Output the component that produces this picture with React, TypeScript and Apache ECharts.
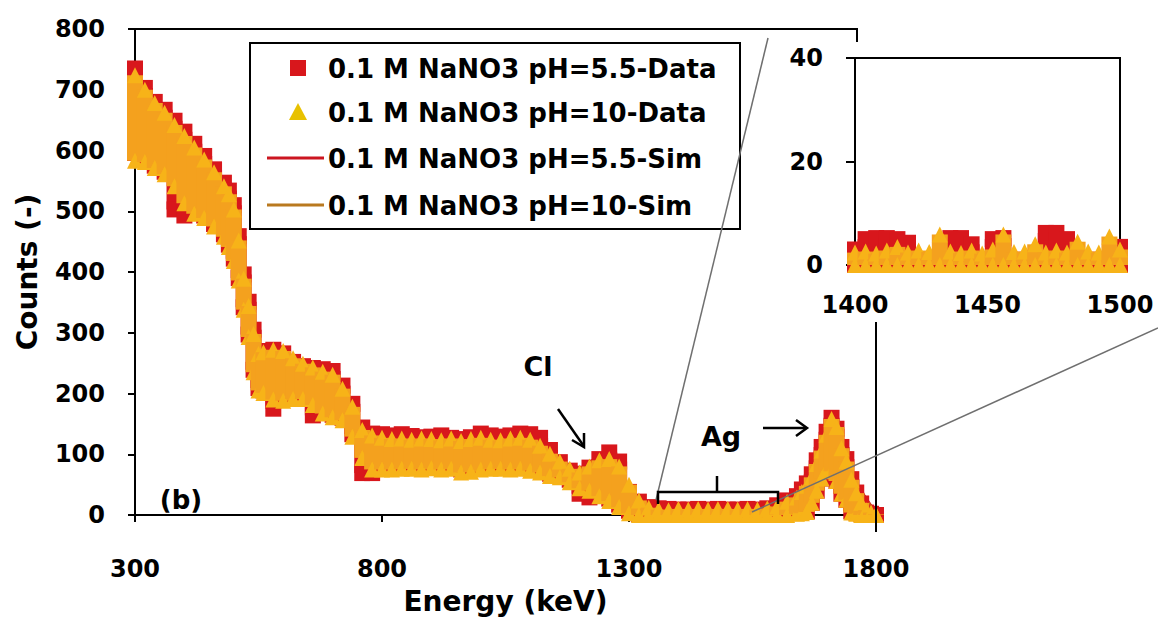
import React, { useEffect, useRef } from "react";
import * as echarts from "echarts";

// ---- spectrum data: spread (low..high) of measured counts in each energy bin ----
const energy = [
  300, 320, 340, 360, 380, 400, 420, 440, 460, 480, 490, 500, 510, 520, 530, 540,
  550, 560, 580, 600, 620, 640, 660, 680, 700, 720, 740, 760, 780, 800, 820, 840,
  860, 880, 900, 920, 940, 960, 980, 1000, 1020, 1040, 1060, 1080, 1100, 1120,
  1140, 1160, 1180, 1200, 1220, 1240, 1260, 1280, 1300, 1320, 1340, 1360, 1380,
  1400, 1420, 1440, 1460, 1480, 1500, 1520, 1540, 1560, 1580, 1600, 1620, 1640,
  1650, 1660, 1670, 1680, 1690, 1700, 1710, 1720, 1730, 1740, 1750, 1760, 1770,
  1780, 1790, 1800,
];
const ph55Low = [
  596, 585, 575, 565, 503, 493, 500, 493, 479, 462, 445, 422, 390, 342, 297, 239,
  209, 205, 175, 192, 195, 195, 164, 171, 165, 160, 133, 69, 69, 79, 79, 79,
  80, 79, 80, 79, 80, 75, 77, 79, 79, 80, 79, 80, 77, 74,
  68, 66, 58, 35, 29, 35, 27, 17, 7, 2, 1, 0, 0,
  0, 0, 0, 0, 0, 0, 0, 0, 0, 0, 2, 3, 4,
  5, 6, 20, 40, 60, 75, 72, 56, 35, 25, 6, 4, 2,
  0, 0, 0,
];
const ph55High = [
  735, 703, 680, 667, 649, 631, 611, 591, 569, 547, 534, 510, 459, 396, 351, 305,
  270, 266, 272, 266, 252, 245, 242, 240, 237, 213, 183, 144, 134, 133, 131, 133,
  130, 128, 129, 131, 127, 125, 128, 134, 131, 129, 131, 134, 133, 127,
  107, 87, 73, 68, 78, 92, 103, 88, 38, 22, 13, 11, 10,
  9, 9, 10, 9, 10, 9, 9, 10, 9, 11, 16, 24, 31,
  42, 52, 67, 90, 112, 137, 160, 142, 112, 92, 59, 37, 19,
  4, 2, 0,
];
const ph10Low = [
  583, 581, 571, 561, 541, 513, 496, 489, 475, 458, 441, 418, 386, 338, 293, 235,
  205, 201, 190, 188, 191, 191, 181, 167, 161, 156, 129, 94, 75, 75, 75, 76,
  76, 75, 77, 75, 76, 70, 71, 75, 76, 76, 75, 76, 73, 70,
  64, 62, 54, 44, 40, 31, 23, 13, 3, 0, 0, 0, 0,
  0, 0, 0, 0, 0, 0, 0, 0, 0, 0, 0, 0, 2,
  3, 5, 20, 40, 60, 75, 72, 56, 35, 25, 4, 2, 0,
  0, 0, 0,
];
const ph10High = [
  724, 700, 678, 662, 642, 624, 605, 585, 564, 541, 528, 503, 452, 389, 344, 298,
  265, 268, 272, 270, 258, 249, 243, 236, 231, 208, 178, 140, 131, 127, 125, 126,
  124, 126, 125, 123, 126, 122, 125, 127, 124, 123, 126, 127, 124, 114,
  101, 88, 76, 70, 80, 90, 92, 80, 50, 24, 12, 9, 8,
  10, 9, 10, 9, 10, 10, 9, 10, 9, 11, 14, 22, 29,
  38, 48, 62, 84, 106, 132, 158, 145, 110, 88, 58, 36, 20,
  8, 4, 1,
];

// ---- simulated spectra ----
const simEnergy = [
  300, 350, 400, 450, 500, 550, 600, 650, 700, 750, 800, 850, 900, 950, 1000, 1050,
  1100, 1150, 1200, 1250, 1300, 1350, 1400, 1450, 1500, 1550, 1600, 1650, 1700,
  1750, 1800,
];
const sim55 = [
  660, 620, 570, 535, 455, 260, 225, 215, 205, 150, 105, 103, 102, 100, 104, 102,
  102, 90, 55, 72, 40, 8, 5, 5, 5, 5, 8, 45, 115, 65, 4,
];
const sim10 = [
  650, 612, 565, 530, 450, 255, 230, 212, 200, 150, 100, 98, 99, 98, 99, 98,
  97, 88, 52, 62, 32, 6, 4, 4, 4, 4, 7, 42, 110, 62, 3,
];

// ---- inset: 1400-1500 keV, 4 keV bins ----
const insetEnergy = [
  1400, 1404, 1408, 1412, 1416, 1420, 1424, 1428, 1432, 1436, 1440, 1444, 1448,
  1452, 1456, 1460, 1464, 1468, 1472, 1476, 1480, 1484, 1488, 1492, 1496, 1500,
];
const insetPh55Low = [0, 0, 0, 0, 0, 0, 0, 0, 0, 0, 0, 0, 0, 0, 0, 0, 0, 0, 0, 0, 0, 0, 0, 0, 0, 0];
const insetPh55High = [
  3, 5, 5.2, 5.2, 5, 4.3, 1, 1, 1, 5.2, 5.2, 4, 1, 5, 5.2, 1, 1, 1, 6.2, 6.2,
  5, 1, 1, 1, 1, 3.5,
];
const insetPh10Low = [0, 0, 0, 0, 0, 0, 0, 0, 0, 0, 0, 0, 0, 0, 0, 0, 0, 0, 0, 0, 0, 0, 0, 0, 0, 0];
const insetPh10High = [
  2.4, 2.6, 2.2, 2.8, 3.5, 2.4, 2.8, 2.5, 5.9, 2.6, 2.3, 2.8, 2.2, 3, 5.9, 2.5,
  2.6, 4, 2.4, 2.8, 2.4, 4.5, 2.6, 2.4, 5.5, 3,
];

const seriesNames = [
  "0.1 M NaNO3 pH=5.5-Data",
  "0.1 M NaNO3 pH=10-Data",
  "0.1 M NaNO3 pH=5.5-Sim",
  "0.1 M NaNO3 pH=10-Sim",
];

const RED = "#D8171C";
const ORANGE = "#F4A11E";
const YELLOW = "#F7B318";
const LEGEND_YELLOW = "#E8C100";
const SIM_RED = "#CC1620";
const SIM_ORANGE = "#B9791F";
const FONT = "DejaVu Sans";
const MARK = 16;

// Each bin is drawn as a column of overlapping markers spanning its low..high counts.
function columnRenderer(shape: "square" | "triangle", body: string, tip: string) {
  return (_params: any, api: any) => {
    const e = api.value(0);
    const top = api.coord([e, api.value(2)]);
    const bot = api.coord([e, api.value(1)]);
    const h = MARK / 2;
    const children: any[] = [
      {
        type: "rect",
        shape: { x: top[0] - h, y: top[1], width: MARK, height: Math.max(0, bot[1] - top[1]) },
        style: { fill: body },
      },
    ];
    for (const p of [bot, top]) {
      if (shape === "square") {
        children.push({
          type: "rect",
          shape: { x: p[0] - h, y: p[1] - h, width: MARK, height: MARK },
          style: { fill: tip },
        });
      } else {
        children.push({
          type: "polygon",
          shape: { points: [[p[0], p[1] - h], [p[0] + h, p[1] + h], [p[0] - h, p[1] + h]] },
          style: { fill: tip },
        });
      }
    }
    return { type: "group", children };
  };
}

const bins = (xs: number[], lo: number[], hi: number[]) => xs.map((x, i) => [x, lo[i], hi[i]]);
const pairs = (xs: number[], ys: number[]) => xs.map((x, i) => [x, ys[i]]);
const plain = (v: number) => String(v);

const labelStyle = { color: "#000", fontFamily: FONT, fontWeight: "bold" as const, fontSize: 24 };
const axisLine = { show: true, lineStyle: { color: "#000", width: 2 } };
const axisTick = { show: true, inside: false, length: 7, lineStyle: { color: "#000", width: 2 } };

function txt(text: string, x: number, y: number, size: number, align = "center") {
  return {
    type: "text",
    z: 120,
    style: {
      text,
      x,
      y,
      fill: "#000",
      fontFamily: FONT,
      fontWeight: "bold",
      fontSize: size,
      align,
      verticalAlign: "middle",
    },
  };
}
function seg(x1: number, y1: number, x2: number, y2: number, stroke = "#000", lineWidth = 2.5) {
  return { type: "line", z: 110, shape: { x1, y1, x2, y2 }, style: { stroke, lineWidth } };
}
function chevron(points: number[][]) {
  return { type: "polyline", z: 110, shape: { points }, style: { stroke: "#000", lineWidth: 2.5, fill: null } };
}

export default function App() {
  const ref = useRef<HTMLDivElement>(null);

  useEffect(() => {
    if (!ref.current) return;
    const chart = echarts.init(ref.current, undefined, { renderer: "svg" });

    const legendRows = [68, 112, 158, 205];
    const legend: any[] = [
      {
        type: "rect",
        z: 100,
        shape: { x: 250, y: 43, width: 490, height: 186 },
        style: { fill: "#fff", stroke: "#000", lineWidth: 2 },
      },
      { type: "rect", z: 101, shape: { x: 290, y: legendRows[0] - 8, width: 16, height: 16 }, style: { fill: RED } },
      {
        type: "polygon",
        z: 101,
        shape: { points: [[298, legendRows[1] - 9], [307, legendRows[1] + 8], [289, legendRows[1] + 8]] },
        style: { fill: LEGEND_YELLOW },
      },
      { type: "line", z: 101, shape: { x1: 267, y1: legendRows[2], x2: 324, y2: legendRows[2] }, style: { stroke: SIM_RED, lineWidth: 3 } },
      { type: "line", z: 101, shape: { x1: 267, y1: legendRows[3], x2: 324, y2: legendRows[3] }, style: { stroke: SIM_ORANGE, lineWidth: 3 } },
      ...seriesNames.map((n, i) => ({ ...txt(n, 328, legendRows[i] + 1, 26, "left"), z: 102 })),
    ];

    chart.setOption({
      animation: false,
      backgroundColor: "#fff",
      grid: [
        { left: 135, top: 29, width: 741, height: 503 },
        {
          left: 855,
          top: 58,
          width: 265,
          height: 207,
          show: true,
          borderColor: "#000",
          borderWidth: 2,
          backgroundColor: "transparent",
        },
      ],
      xAxis: [
        {
          gridIndex: 0,
          type: "value",
          min: 300,
          max: 1800,
          interval: 500,
          axisLine,
          axisTick,
          splitLine: { show: false },
          axisLabel: { ...labelStyle, margin: 42, formatter: plain },
          name: "Energy (keV)",
          nameLocation: "middle",
          nameGap: 72,
          nameTextStyle: { ...labelStyle, fontSize: 28 },
        },
        {
          gridIndex: 1,
          type: "value",
          min: 1400,
          max: 1500,
          interval: 50,
          axisLine,
          axisTick: { ...axisTick, show: false },
          splitLine: { show: false },
          axisLabel: { ...labelStyle, margin: 28, formatter: plain },
        },
      ],
      yAxis: [
        {
          gridIndex: 0,
          type: "value",
          min: 0,
          max: 800,
          interval: 100,
          axisLine,
          axisTick,
          splitLine: { show: false },
          axisLabel: { ...labelStyle, margin: 30, formatter: plain },
          name: "Counts (-)",
          nameLocation: "middle",
          nameRotate: 90,
          nameGap: 94,
          nameTextStyle: { ...labelStyle, fontSize: 28 },
        },
        {
          gridIndex: 1,
          type: "value",
          min: 0,
          max: 40,
          interval: 20,
          axisLine,
          axisTick: { ...axisTick, length: 9 },
          splitLine: { show: false },
          axisLabel: { ...labelStyle, margin: 32, formatter: plain },
        },
      ],
      series: [
        {
          name: seriesNames[2],
          type: "line",
          data: pairs(simEnergy, sim55),
          showSymbol: false,
          lineStyle: { color: SIM_RED, width: 2 },
          z: 1,
        },
        {
          name: seriesNames[3],
          type: "line",
          data: pairs(simEnergy, sim10),
          showSymbol: false,
          lineStyle: { color: SIM_ORANGE, width: 2 },
          z: 1,
        },
        {
          name: seriesNames[0],
          type: "custom",
          renderItem: columnRenderer("square", RED, RED),
          data: bins(energy, ph55Low, ph55High),
          encode: { x: 0, y: [1, 2] },
          itemStyle: { color: RED },
          z: 2,
        },
        {
          name: seriesNames[1],
          type: "custom",
          renderItem: columnRenderer("triangle", ORANGE, YELLOW),
          data: bins(energy, ph10Low, ph10High),
          encode: { x: 0, y: [1, 2] },
          itemStyle: { color: ORANGE },
          z: 3,
        },
        {
          name: seriesNames[0] + " (1400-1500 keV)",
          type: "custom",
          xAxisIndex: 1,
          yAxisIndex: 1,
          renderItem: columnRenderer("square", RED, RED),
          data: bins(insetEnergy, insetPh55Low, insetPh55High),
          encode: { x: 0, y: [1, 2] },
          z: 2,
        },
        {
          name: seriesNames[1] + " (1400-1500 keV)",
          type: "custom",
          xAxisIndex: 1,
          yAxisIndex: 1,
          renderItem: columnRenderer("triangle", ORANGE, YELLOW),
          data: bins(insetEnergy, insetPh10Low, insetPh10High),
          encode: { x: 0, y: [1, 2] },
          z: 3,
        },
      ],
      graphic: [
        // upper and right frame of the main plot
        seg(135, 29, 857, 29, "#000", 2),
        seg(857, 28, 857, 42, "#000", 2),
        seg(876, 322, 876, 532, "#000", 2),
        // zoom guide lines towards the inset
        seg(656, 500, 768, 38, "#6f6f6f", 1.5),
        seg(752, 512, 1158, 328, "#6f6f6f", 1.5),
        // bracket over the Ag window
        { type: "polyline", z: 110, shape: { points: [[658, 504], [658, 492], [778, 492], [778, 504]] }, style: { stroke: "#000", lineWidth: 2.5, fill: null } },
        seg(717, 492, 717, 476),
        // arrows
        seg(558, 409, 583, 445),
        chevron([[572, 440], [584, 447], [584, 433]]),
        seg(763, 428, 806, 428),
        chevron([[796, 420], [807, 428], [796, 436]]),
        txt("Cl", 538, 366, 27),
        txt("Ag", 721, 436, 27),
        txt("(b)", 181, 500, 26),
        ...legend,
      ],
    });

    return () => chart.dispose();
  }, []);

  return (
    <div
      ref={ref}
      style={{ position: "absolute", left: 0, top: 0, width: 1158, height: 620, background: "#fff" }}
    />
  );
}
